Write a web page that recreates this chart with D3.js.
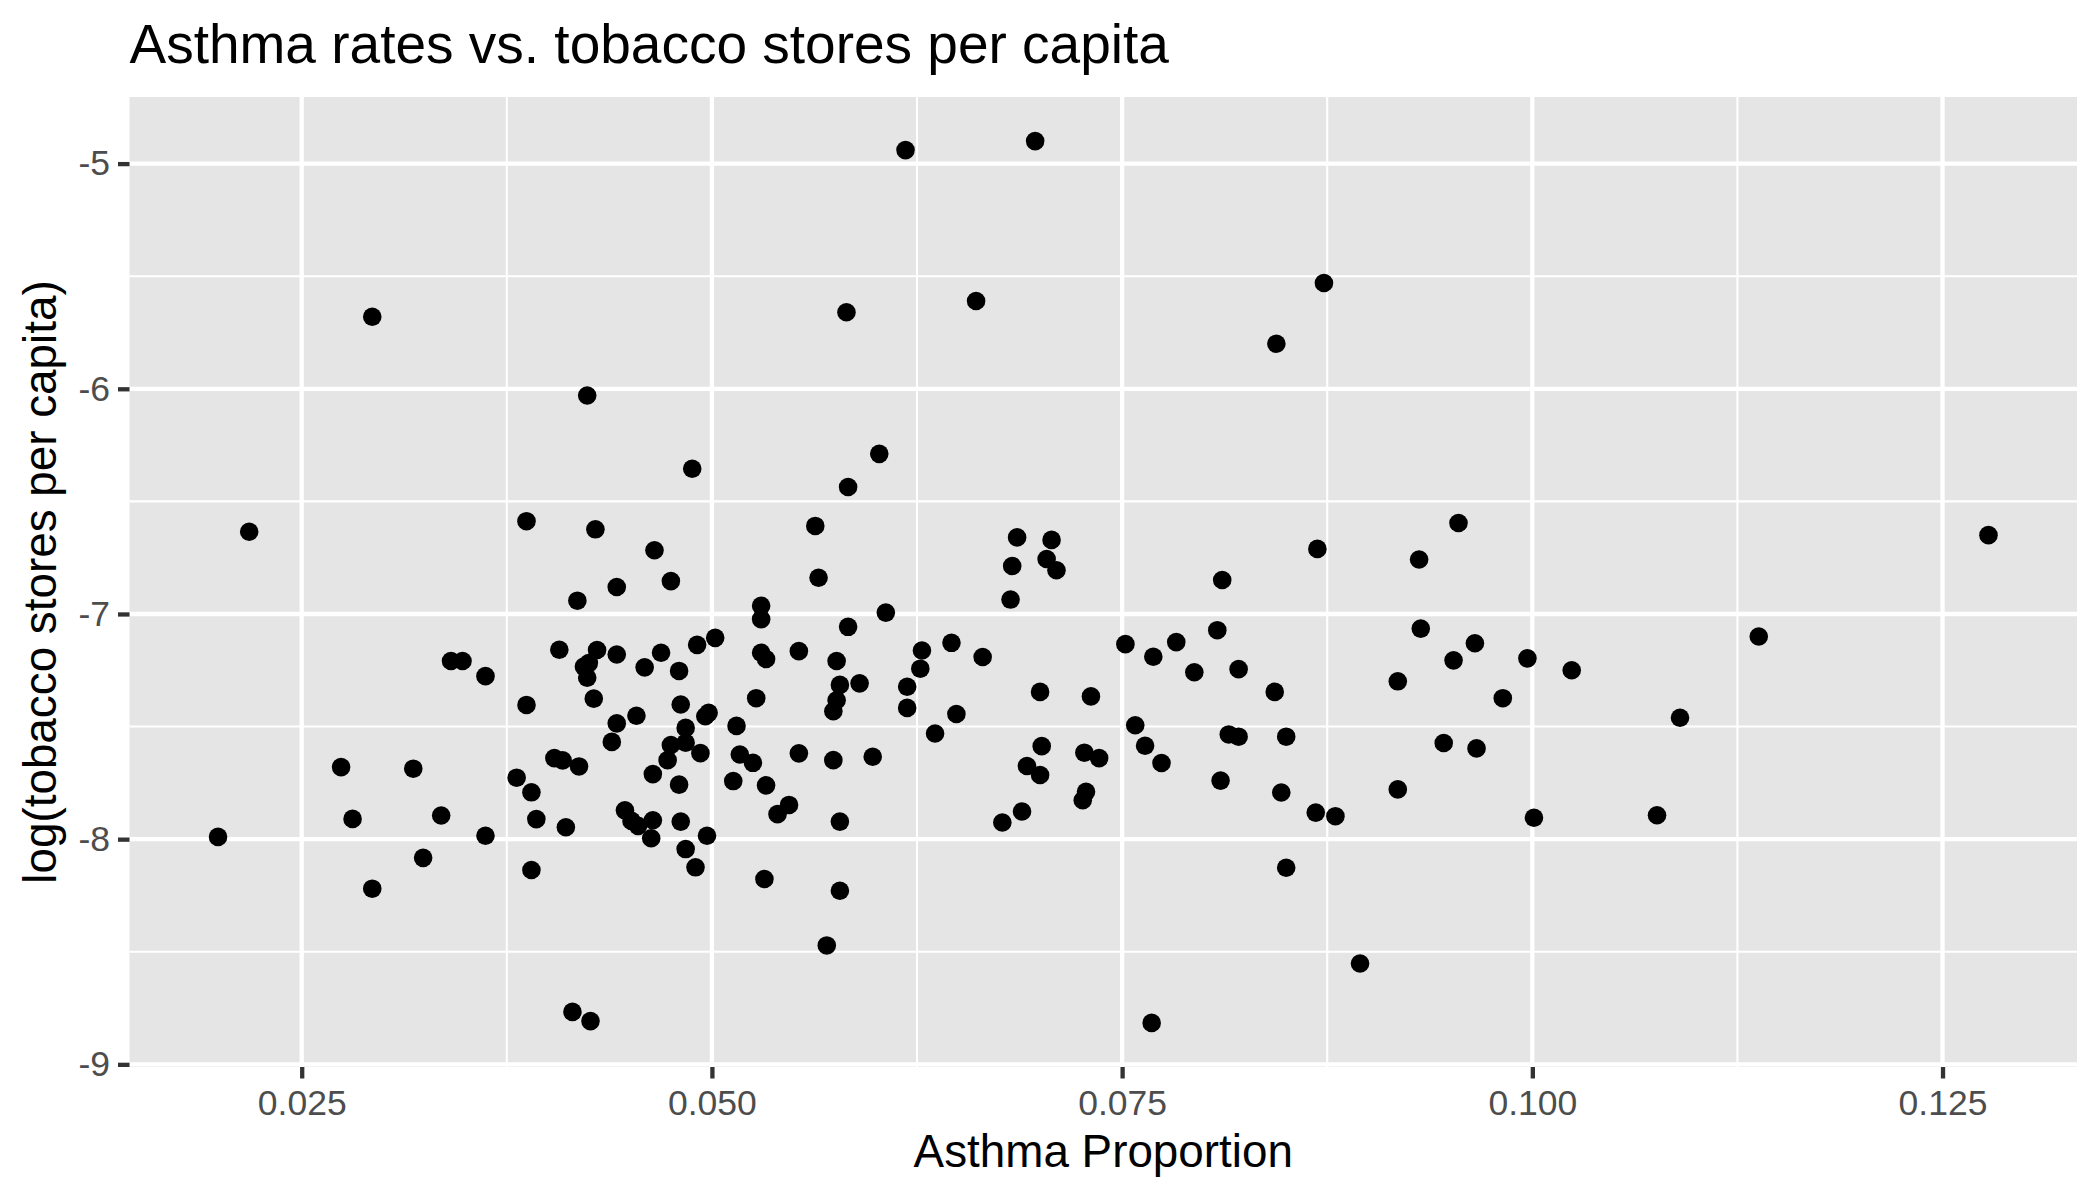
<!DOCTYPE html>
<html>
<head>
<meta charset="utf-8">
<script src="https://cdn.jsdelivr.net/npm/d3@7"></script>
<style>
  body { margin: 0; background: #fff; }
  text { font-family: "Liberation Sans", Arial, Helvetica, sans-serif; }
</style>
</head>
<body>
<div id="chart"></div>
<script>
// asthma proportion per area
var asthma = [
    0.0199, 0.0218, 0.0274, 0.0281, 0.0293, 0.0293, 0.0318, 0.0324, 0.0335, 0.0341,
    0.0348, 0.0362, 0.0362, 0.0381, 0.0387, 0.0387, 0.0390, 0.0390, 0.0393, 0.0404,
    0.0407, 0.0409, 0.0411, 0.0415, 0.0418, 0.0419, 0.0422, 0.0424, 0.0424, 0.0425,
    0.0426, 0.0428, 0.0429, 0.0430, 0.0439, 0.0442, 0.0442, 0.0442, 0.0447, 0.0451,
    0.0454, 0.0455, 0.0459, 0.0463, 0.0464, 0.0464, 0.0465, 0.0469, 0.0473, 0.0475,
    0.0475, 0.0480, 0.0480, 0.0481, 0.0481, 0.0484, 0.0484, 0.0484, 0.0488, 0.0490,
    0.0491, 0.0493, 0.0496, 0.0497, 0.0498, 0.0502, 0.0513, 0.0515, 0.0517, 0.0525,
    0.0527, 0.0530, 0.0530, 0.0530, 0.0532, 0.0533, 0.0533, 0.0540, 0.0547, 0.0553,
    0.0553, 0.0563, 0.0565, 0.0570, 0.0574, 0.0574, 0.0576, 0.0576, 0.0578, 0.0578,
    0.0578, 0.0582, 0.0583, 0.0583, 0.0590, 0.0598, 0.0602, 0.0606, 0.0618, 0.0619,
    0.0619, 0.0627, 0.0628, 0.0636, 0.0646, 0.0649, 0.0661, 0.0665, 0.0677, 0.0682,
    0.0683, 0.0686, 0.0689, 0.0692, 0.0697, 0.0700, 0.0700, 0.0701, 0.0704, 0.0707,
    0.0710, 0.0726, 0.0727, 0.0728, 0.0731, 0.0736, 0.0752, 0.0758, 0.0764, 0.0768,
    0.0769, 0.0774, 0.0783, 0.0794, 0.0808, 0.0810, 0.0811, 0.0815, 0.0821, 0.0821,
    0.0843, 0.0844, 0.0847, 0.0850, 0.0850, 0.0868, 0.0869, 0.0873, 0.0880, 0.0895,
    0.0918, 0.0918, 0.0931, 0.0932, 0.0946, 0.0952, 0.0955, 0.0965, 0.0966, 0.0982,
    0.0997, 0.1001, 0.1024, 0.1076, 0.1090, 0.1138, 0.1278
];
// log(tobacco stores per capita), same order
var logTobacco = [
    -7.990, -6.635, -7.680, -7.910, -5.680, -8.220, -7.687, -8.083, -7.895, -7.209,
    -7.209, -7.276, -7.985, -7.727, -6.588, -7.404, -7.792, -8.137, -7.911, -7.640,
    -7.159, -7.650, -7.947, -8.767, -6.941, -7.677, -7.234, -6.030, -7.283, -7.218,
    -8.808, -7.376, -6.624, -7.160, -7.568, -6.880, -7.180, -7.486, -7.872, -7.919,
    -7.452, -7.941, -7.237, -7.996, -7.711, -7.916, -6.717, -7.172, -7.649, -6.854,
    -7.582, -7.253, -7.758, -7.402, -7.922, -7.506, -7.572, -8.044, -6.355, -8.125,
    -7.137, -7.618, -7.454, -7.985, -7.439, -7.106, -7.742, -7.497, -7.624, -7.661,
    -7.374, -6.964, -7.023, -7.172, -8.177, -7.200, -7.761, -7.889, -7.848, -7.165,
    -7.619, -6.609, -6.839, -8.472, -7.432, -7.649, -7.209, -7.383, -7.315, -7.922,
    -8.229, -5.660, -6.436, -7.057, -7.308, -7.634, -6.289, -6.994, -4.940, -7.323,
    -7.417, -7.243, -7.162, -7.531, -7.128, -7.444, -5.610, -7.191, -7.926, -6.936,
    -6.787, -6.660, -7.877, -7.675, -4.900, -7.346, -7.715, -7.587, -6.756, -6.671,
    -6.806, -7.827, -7.616, -7.790, -7.366, -7.640, -7.134, -7.494, -7.585, -8.816,
    -7.190, -7.662, -7.125, -7.259, -7.072, -7.740, -6.849, -7.535, -7.545, -7.245,
    -7.346, -5.800, -7.793, -7.545, -8.127, -7.882, -6.711, -5.530, -7.898, -8.552,
    -7.299, -7.779, -6.758, -7.065, -7.573, -7.206, -6.596, -7.130, -7.597, -7.374,
    -7.197, -7.905, -7.250, -7.894, -7.461, -7.100, -6.650
];

var xTicks = [0.025, 0.050, 0.075, 0.100, 0.125];
var xMinor = [0.0375, 0.0625, 0.0875, 0.1125];
var yTicks = [-9, -8, -7, -6, -5];
var yMinor = [-8.5, -7.5, -6.5, -5.5];

var titleText = "Asthma rates vs. tobacco stores per capita";
var xTitle = "Asthma Proportion";
var yTitle = "log(tobacco stores per capita)";

var width = 2100,
    height = 1200;
var panel = { left: 129.5, right: 2077, top: 97, bottom: 1067 };

var svg = d3.select("#chart").append("svg")
    .attr("width", width)
    .attr("height", height);

// ggplot style 5% expansion of data range
function expand(ext) {
    var pad = (ext[1] - ext[0]) * 0.05;
    return [ext[0] - pad, ext[1] + pad];
}

var x = d3.scaleLinear()
    .domain(expand(d3.extent(asthma)))
    .range([panel.left, panel.right]);
var y = d3.scaleLinear()
    .domain(expand(d3.extent(logTobacco)))
    .range([panel.bottom, panel.top]);

svg.append("rect")
    .attr("x", panel.left)
    .attr("y", panel.top)
    .attr("width", panel.right - panel.left)
    .attr("height", panel.bottom - panel.top)
    .attr("fill", "#E5E5E5");

var grid = svg.append("g");
// minor grid
grid.selectAll(".xminor").data(xMinor).enter().append("line")
    .attr("x1", d => x(d)).attr("x2", d => x(d))
    .attr("y1", panel.top).attr("y2", panel.bottom)
    .attr("stroke", "#fff").attr("stroke-width", 2.1);
grid.selectAll(".yminor").data(yMinor).enter().append("line")
    .attr("y1", d => y(d)).attr("y2", d => y(d))
    .attr("x1", panel.left).attr("x2", panel.right)
    .attr("stroke", "#fff").attr("stroke-width", 2.1);
// major grid
grid.selectAll(".xmajor").data(xTicks).enter().append("line")
    .attr("x1", d => x(d)).attr("x2", d => x(d))
    .attr("y1", panel.top).attr("y2", panel.bottom)
    .attr("stroke", "#fff").attr("stroke-width", 4.3);
grid.selectAll(".ymajor").data(yTicks).enter().append("line")
    .attr("y1", d => y(d)).attr("y2", d => y(d))
    .attr("x1", panel.left).attr("x2", panel.right)
    .attr("stroke", "#fff").attr("stroke-width", 4.3);

// axes
var xAxis = d3.axisBottom(x)
    .tickValues(xTicks)
    .tickFormat(d3.format(".3f"))
    .tickSize(11.5)
    .tickPadding(11.5);
var yAxis = d3.axisLeft(y)
    .tickValues(yTicks)
    .tickFormat(d => String(d).replace("\u2212", "-"))
    .tickSize(11.5)
    .tickPadding(8);

var gx = svg.append("g")
    .attr("transform", "translate(0," + panel.bottom + ")")
    .call(xAxis);
var gy = svg.append("g")
    .attr("transform", "translate(" + panel.left + ",0)")
    .call(yAxis);

[gx, gy].forEach(function (g) {
    g.select(".domain").remove();
    g.selectAll(".tick line").attr("stroke", "#333333").attr("stroke-width", 4.3);
    g.selectAll(".tick text")
        .attr("fill", "#4D4D4D")
        .attr("font-size", 35.5)
        .attr("font-family", "Liberation Sans, Arial, sans-serif");
});

// points
svg.append("g")
    .selectAll("circle")
    .data(asthma)
    .enter()
    .append("circle")
    .attr("cx", d => x(d))
    .attr("cy", (d, i) => y(logTobacco[i]))
    .attr("r", 9.3)
    .attr("fill", "#000");

// titles
svg.append("text")
    .attr("x", panel.left)
    .attr("y", 63)
    .attr("font-size", 55)
    .attr("fill", "#000")
    .text(titleText);

svg.append("text")
    .attr("x", (panel.left + panel.right) / 2)
    .attr("y", 1167)
    .attr("text-anchor", "middle")
    .attr("font-size", 45.8)
    .attr("fill", "#000")
    .text(xTitle);

svg.append("text")
    .attr("transform", "translate(56," + ((panel.top + panel.bottom) / 2) + ") rotate(-90)")
    .attr("text-anchor", "middle")
    .attr("font-size", 45.8)
    .attr("fill", "#000")
    .text(yTitle);
</script>
</body>
</html>
